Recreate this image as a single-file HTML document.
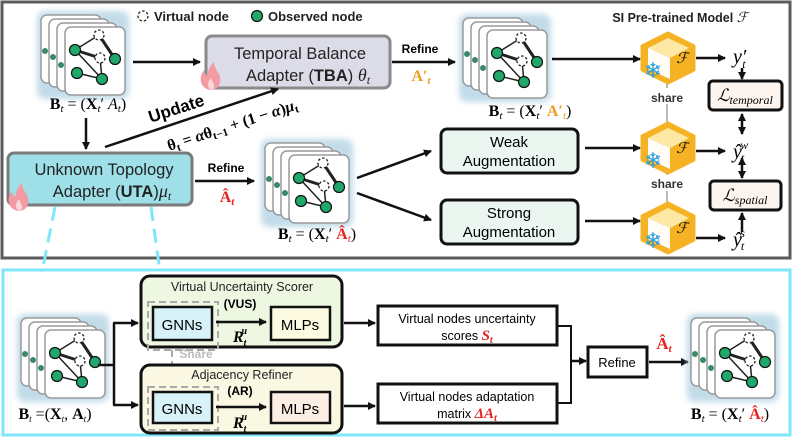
<!DOCTYPE html>
<html><head><meta charset="utf-8"><style>
html,body{margin:0;padding:0;background:#fff;}
svg{display:block;font-family:"Liberation Sans",sans-serif;}
.b{font-weight:bold;}
.m{font-family:"Liberation Serif",serif;}
</style></head><body>
<svg width="793" height="438" viewBox="0 0 793 438" xmlns="http://www.w3.org/2000/svg">
<defs>
<marker id="ar" markerWidth="8" markerHeight="8" refX="7" refY="4" orient="auto" markerUnits="userSpaceOnUse"><path d="M0,0 L8,4 L0,8 z" fill="#111"/></marker>
<marker id="ar2" markerWidth="8" markerHeight="8" refX="7" refY="4" orient="auto-start-reverse" markerUnits="userSpaceOnUse"><path d="M0,0 L8,4 L0,8 z" fill="#111"/></marker>
<filter id="glow" x="-30%" y="-30%" width="160%" height="160%"><feGaussianBlur stdDeviation="3"/></filter>
<g id="card">
<rect x="0" y="0" width="60" height="68" rx="6" fill="#fff" stroke="#9a9a9a" stroke-width="1.5"/>
</g>
<g id="stack">
<rect x="-28" y="-16" width="92" height="88" rx="8" fill="#a9cde0" opacity="0.7" filter="url(#glow)"/>
<use href="#card" x="-24" y="-12"/>
<use href="#card" x="-16" y="-8"/>
<use href="#card" x="-8" y="-4"/>
<circle cx="-20" cy="24" r="3" fill="#3a8a6a"/><circle cx="-12" cy="30" r="3" fill="#3a8a6a"/><circle cx="-4" cy="38" r="3" fill="#3a8a6a"/>
<use href="#card" x="0" y="0"/>
<g stroke="#222" stroke-width="1.5">
<line x1="10" y1="23" x2="34" y2="8"/><line x1="34" y1="8" x2="50" y2="32" stroke-width="3"/>
<line x1="10" y1="23" x2="35" y2="31" stroke-width="3"/><line x1="10" y1="23" x2="37" y2="52"/>
<line x1="12" y1="46" x2="37" y2="52"/><line x1="35" y1="31" x2="37" y2="52"/>
</g>
<circle cx="34" cy="8" r="5" fill="#fff" stroke="#222" stroke-width="1.3" stroke-dasharray="2.5,2"/>
<circle cx="35" cy="31" r="5" fill="#fff" stroke="#222" stroke-width="1.3" stroke-dasharray="2.5,2"/>
<g fill="#1fa86a" stroke="#111" stroke-width="1.2">
<circle cx="10" cy="23" r="5.5"/><circle cx="50" cy="32" r="5.5"/><circle cx="12" cy="46" r="5.5"/><circle cx="37" cy="52" r="5.5"/>
</g>
</g>
<g id="cube">
<polygon points="0,-25 26,-12 26,12 0,25 -26,12 -26,-12" fill="#f5b324" stroke="#f5b324" stroke-width="3" stroke-linejoin="round"/>
<polygon points="0,-20 21,-10 2,0 -20,-10" fill="#fde8a6"/>
<polygon points="-20,-10 2,0 2,21 -20,11" fill="#fffdf6"/>
<text x="14" y="5" font-size="15" class="m" font-style="italic" text-anchor="middle" fill="#111">ℱ</text>
<text x="-15" y="20" font-size="22" text-anchor="middle" fill="#2a9ee0">❄</text>
</g>
<g id="flame">
<path d="M10,26 C0,24 -2,14 4,6 C5,12 8,12 8,10 C8,4 12,0 14,-2 C14,6 22,10 20,18 C19,24 15,26 10,26 z" fill="#f49aa3"/>
<path d="M11,26 C7,24 7,18 11,14 C12,18 15,20 14,24 z" fill="#fff" opacity="0.6"/>
</g>
</defs>

<rect x="2" y="2" width="788" height="256" fill="#fff" stroke="#5b5b5b" stroke-width="3"/>
<rect x="3" y="270" width="787" height="165" fill="#fff" stroke="#7fe7f9" stroke-width="3"/>

<circle cx="143" cy="16" r="5" fill="#fff" stroke="#222" stroke-width="1.3" stroke-dasharray="2.5,2"/>
<text x="154" y="21" font-size="13" class="b" fill="#222">Virtual node</text>
<circle cx="257" cy="16" r="5.5" fill="#1fa86a" stroke="#111" stroke-width="1.2"/>
<text x="268" y="21" font-size="13" class="b" fill="#222">Observed node</text>

<use href="#stack" x="65" y="27"/>
<text x="88" y="109" font-size="16" class="m" text-anchor="middle"><tspan font-weight="bold">B</tspan><tspan font-style="italic" font-size="11" dy="3">t</tspan><tspan dy="-3"> = (</tspan><tspan font-weight="bold">X</tspan><tspan font-style="italic" font-size="11" dy="3">t</tspan><tspan dy="-3">′ </tspan><tspan font-style="italic">A</tspan><tspan font-style="italic" font-size="11" dy="3">t</tspan><tspan dy="-3">)</tspan></text>

<line x1="133" y1="62" x2="200" y2="62" stroke="#111" stroke-width="2.5" marker-end="url(#ar)"/>

<rect x="206" y="36" width="184" height="52" rx="6" fill="#dcdce8" stroke="#8a8a8a" stroke-width="3"/>
<text x="300" y="59" font-size="16.5" text-anchor="middle" fill="#222">Temporal Balance</text>
<text x="308" y="81" font-size="16.5" text-anchor="middle" fill="#222">Adapter (<tspan font-weight="bold">TBA</tspan>) <tspan class="m" font-style="italic" font-size="18">θ</tspan><tspan class="m" font-style="italic" font-size="12" dy="3">t</tspan></text>
<use href="#flame" x="200" y="64"/>

<line x1="392" y1="62" x2="455" y2="62" stroke="#111" stroke-width="2.5" marker-end="url(#ar)"/>
<text x="420" y="53" font-size="12" class="b" text-anchor="middle">Refine</text>
<text x="421" y="81" font-size="16" class="m b" text-anchor="middle" fill="#f39a1c">A′<tspan font-size="11" font-style="italic" dy="3">t</tspan></text>

<line x1="105" y1="147" x2="278" y2="89" stroke="#111" stroke-width="2.5" marker-end="url(#ar)"/>
<text transform="translate(178,114) rotate(-18)" font-size="17" class="b" text-anchor="middle">Update</text>
<text transform="translate(234,130) rotate(-18)" font-size="16" class="m" font-weight="bold" text-anchor="middle">θ<tspan font-size="11" dy="3">t</tspan><tspan dy="-3"> = </tspan><tspan font-style="italic">α</tspan>θ<tspan font-size="11" dy="3">t−1</tspan><tspan dy="-3"> + (1 − </tspan><tspan font-style="italic">α</tspan>)<tspan font-style="italic">μ</tspan><tspan font-size="11" dy="3">t</tspan></text>

<line x1="86" y1="118" x2="86" y2="149" stroke="#111" stroke-width="2.5" marker-end="url(#ar)"/>

<rect x="8" y="153" width="184" height="52" rx="6" fill="#9fdfe8" stroke="#7a7a7a" stroke-width="3"/>
<text x="104" y="175" font-size="16.5" text-anchor="middle" fill="#222">Unknown Topology</text>
<text x="112" y="197" font-size="16.5" text-anchor="middle" fill="#222">Adapter (<tspan font-weight="bold">UTA</tspan>)<tspan class="m" font-style="italic" font-size="18">μ</tspan><tspan class="m" font-style="italic" font-size="12" dy="3">t</tspan></text>
<use href="#flame" x="8" y="185"/>

<line x1="55" y1="207" x2="42" y2="272" stroke="#7fe7f9" stroke-width="3" stroke-dasharray="14,8"/>
<line x1="151" y1="207" x2="160" y2="272" stroke="#7fe7f9" stroke-width="3" stroke-dasharray="14,8"/>

<line x1="195" y1="181" x2="254" y2="181" stroke="#111" stroke-width="2.5" marker-end="url(#ar)"/>
<text x="226" y="172" font-size="12" class="b" text-anchor="middle">Refine</text>
<text x="227" y="202" font-size="16" class="m b" text-anchor="middle" fill="#e8231f">Â<tspan font-size="11" font-style="italic" dy="3">t</tspan></text>

<use href="#stack" x="289" y="155"/>
<text x="317" y="239" font-size="16" class="m" text-anchor="middle"><tspan font-weight="bold">B</tspan><tspan font-style="italic" font-size="11" dy="3">t</tspan><tspan dy="-3"> = (</tspan><tspan font-weight="bold">X</tspan><tspan font-style="italic" font-size="11" dy="3">t</tspan><tspan dy="-3">′ </tspan><tspan font-weight="bold" fill="#e8231f">Â</tspan><tspan font-style="italic" font-size="11" dy="3" fill="#e8231f">t</tspan><tspan dy="-3">)</tspan></text>

<line x1="357" y1="178" x2="431" y2="151" stroke="#111" stroke-width="2.5" marker-end="url(#ar)"/>
<line x1="357" y1="193" x2="431" y2="220" stroke="#111" stroke-width="2.5" marker-end="url(#ar)"/>

<use href="#stack" x="487" y="30"/>
<text x="530" y="116" font-size="16" class="m" text-anchor="middle"><tspan font-weight="bold">B</tspan><tspan font-style="italic" font-size="11" dy="3">t</tspan><tspan dy="-3"> = (</tspan><tspan font-weight="bold">X</tspan><tspan font-style="italic" font-size="11" dy="3">t</tspan><tspan dy="-3">′ </tspan><tspan font-weight="bold" fill="#f39a1c">A′</tspan><tspan font-style="italic" font-size="11" dy="3" fill="#f39a1c">t</tspan><tspan dy="-3">)</tspan></text>

<rect x="441" y="129" width="137" height="44" rx="6" fill="#ebf6f1" stroke="#111" stroke-width="3"/>
<text x="509" y="147" font-size="15" text-anchor="middle">Weak</text>
<text x="509" y="166" font-size="15" text-anchor="middle">Augmentation</text>
<rect x="441" y="200" width="137" height="44" rx="6" fill="#ebf6f1" stroke="#111" stroke-width="3"/>
<text x="509" y="218" font-size="15" text-anchor="middle">Strong</text>
<text x="509" y="237" font-size="15" text-anchor="middle">Augmentation</text>

<line x1="552" y1="59" x2="640" y2="59" stroke="#111" stroke-width="2.5" marker-end="url(#ar)"/>
<line x1="585" y1="148" x2="640" y2="148" stroke="#111" stroke-width="2.5" marker-end="url(#ar)"/>
<line x1="585" y1="221" x2="640" y2="221" stroke="#111" stroke-width="2.5" marker-end="url(#ar)"/>

<text x="680" y="22" font-size="12.5" class="b" text-anchor="middle" fill="#222">SI Pre-trained Model <tspan class="m" font-style="italic" font-weight="normal" font-size="14">ℱ</tspan></text>
<line x1="667" y1="84" x2="667" y2="124" stroke="#bbb" stroke-width="2"/>
<line x1="667" y1="172" x2="667" y2="204" stroke="#bbb" stroke-width="2"/>
<rect x="645" y="88" width="44" height="16" fill="#fff"/>
<rect x="645" y="175" width="44" height="16" fill="#fff"/>
<text x="667" y="102" font-size="12" class="b" text-anchor="middle" fill="#333">share</text>
<text x="667" y="188" font-size="12" class="b" text-anchor="middle" fill="#333">share</text>
<use href="#cube" x="668" y="58"/>
<use href="#cube" x="668" y="148"/>
<use href="#cube" x="668" y="228"/>

<line x1="696" y1="58" x2="725" y2="58" stroke="#111" stroke-width="2.5" marker-end="url(#ar)"/>
<line x1="696" y1="151" x2="725" y2="151" stroke="#111" stroke-width="2.5" marker-end="url(#ar)"/>
<line x1="696" y1="238" x2="725" y2="238" stroke="#111" stroke-width="2.5" marker-end="url(#ar)"/>
<text x="733" y="63" font-size="20" class="m" font-style="italic">y′<tspan font-size="12" dy="5" dx="-4">t</tspan></text>
<text x="733" y="158" font-size="20" class="m" font-style="italic">ŷ<tspan font-size="12" dy="4" dx="-1">t</tspan><tspan font-size="12" dy="-13" dx="-4">w</tspan></text>
<text x="733" y="246" font-size="20" class="m" font-style="italic">ŷ<tspan font-size="12" dy="4" dx="-1">t</tspan><tspan font-size="12" dy="-13" dx="-4">s</tspan></text>

<rect x="709" y="81" width="73" height="29" rx="4" fill="#fcf4ee" stroke="#111" stroke-width="3"/>
<text x="745" y="101" font-size="17" class="m" font-style="italic" text-anchor="middle">ℒ<tspan font-size="12" dy="3">temporal</tspan></text>
<rect x="710" y="181" width="71" height="29" rx="4" fill="#fcf4ee" stroke="#111" stroke-width="3"/>
<text x="745" y="201" font-size="17" class="m" font-style="italic" text-anchor="middle">ℒ<tspan font-size="12" dy="3">spatial</tspan></text>
<line x1="742" y1="68" x2="742" y2="79" stroke="#111" stroke-width="2.5" marker-end="url(#ar)"/>
<line x1="742" y1="114" x2="742" y2="134" stroke="#111" stroke-width="2.5" marker-start="url(#ar2)" marker-end="url(#ar2)"/>
<line x1="742" y1="158" x2="742" y2="178" stroke="#111" stroke-width="2.5" marker-start="url(#ar2)" marker-end="url(#ar2)"/>
<line x1="742" y1="232" x2="742" y2="213" stroke="#111" stroke-width="2.5" marker-end="url(#ar)"/>

<use href="#stack" x="45" y="330"/>
<text x="55" y="419" font-size="16" class="m" text-anchor="middle"><tspan font-weight="bold">B</tspan><tspan font-style="italic" font-size="9" dy="3">t</tspan><tspan dy="-3"> =(</tspan><tspan font-weight="bold">X</tspan><tspan font-style="italic" font-size="9" dy="3">t</tspan><tspan dy="-3">, </tspan><tspan font-weight="bold">A</tspan><tspan font-style="italic" font-size="9" dy="3">t</tspan><tspan dy="-3">)</tspan></text>
<polyline points="98,365 114,365" fill="none" stroke="#111" stroke-width="2.5"/>
<polyline points="114,323 114,405" fill="none" stroke="#111" stroke-width="2.5"/>
<line x1="113" y1="323" x2="138" y2="323" stroke="#111" stroke-width="2.5" marker-end="url(#ar)"/>
<line x1="113" y1="405" x2="138" y2="405" stroke="#111" stroke-width="2.5" marker-end="url(#ar)"/>

<rect x="141" y="276" width="201" height="71" rx="9" fill="#eef7e1" stroke="#111" stroke-width="3"/>
<text x="242" y="291" font-size="12.5" text-anchor="middle" fill="#222">Virtual Uncertainty Scorer</text>
<rect x="148" y="302" width="70" height="48" fill="none" stroke="#aaa" stroke-width="2" stroke-dasharray="7,4"/>
<rect x="153" y="307" width="59" height="33" fill="#d7f3f9" stroke="#111" stroke-width="2.5"/>
<text x="182" y="330" font-size="15" text-anchor="middle">GNNs</text>
<text x="240" y="308" font-size="12" class="b" text-anchor="middle">(VUS)</text>
<line x1="216" y1="322" x2="266" y2="322" stroke="#111" stroke-width="2.5" marker-end="url(#ar)"/>
<text x="240" y="342" font-size="16" class="m" font-style="italic" text-anchor="middle" font-weight="bold">R<tspan font-size="10" dy="4">t</tspan><tspan font-size="10" dy="-12" dx="-5">u</tspan></text>
<rect x="271" y="307" width="59" height="33" fill="#fdfae2" stroke="#111" stroke-width="2.5"/>
<text x="300" y="330" font-size="15" text-anchor="middle">MLPs</text>

<line x1="172" y1="350" x2="172" y2="386" stroke="#aaa" stroke-width="2" stroke-dasharray="7,4"/>
<text x="196" y="358" font-size="12" class="b" text-anchor="middle" fill="#bbb">Share</text>

<rect x="141" y="365" width="201" height="68" rx="9" fill="#faf8e2" stroke="#111" stroke-width="3"/>
<text x="242" y="379" font-size="12.5" text-anchor="middle" fill="#222">Adjacency Refiner</text>
<rect x="148" y="387" width="70" height="43" fill="none" stroke="#aaa" stroke-width="2" stroke-dasharray="7,4"/>
<rect x="153" y="392" width="59" height="31" fill="#d7f3f9" stroke="#111" stroke-width="2.5"/>
<text x="182" y="414" font-size="15" text-anchor="middle">GNNs</text>
<text x="240" y="395" font-size="12" class="b" text-anchor="middle">(AR)</text>
<line x1="216" y1="407" x2="266" y2="407" stroke="#111" stroke-width="2.5" marker-end="url(#ar)"/>
<text x="240" y="428" font-size="16" class="m" font-style="italic" text-anchor="middle" font-weight="bold">R<tspan font-size="10" dy="4">t</tspan><tspan font-size="10" dy="-12" dx="-5">u</tspan></text>
<rect x="271" y="392" width="59" height="31" fill="#fdeee3" stroke="#111" stroke-width="2.5"/>
<text x="300" y="414" font-size="15" text-anchor="middle">MLPs</text>

<line x1="344" y1="323" x2="375" y2="323" stroke="#111" stroke-width="2.5" marker-end="url(#ar)"/>
<line x1="344" y1="406" x2="375" y2="406" stroke="#111" stroke-width="2.5" marker-end="url(#ar)"/>
<rect x="378" y="306" width="179" height="39" fill="#fff" stroke="#111" stroke-width="3"/>
<text x="467" y="323" font-size="12.5" text-anchor="middle">Virtual nodes uncertainty</text>
<text x="467" y="340" font-size="12.5" text-anchor="middle">scores <tspan class="m" font-style="italic" font-weight="bold" fill="#e8231f" font-size="15">S<tspan font-size="10" dy="3">t</tspan></tspan></text>
<rect x="378" y="384" width="179" height="39" fill="#fff" stroke="#111" stroke-width="3"/>
<text x="467" y="401" font-size="12.5" text-anchor="middle">Virtual nodes adaptation</text>
<text x="467" y="418" font-size="12.5" text-anchor="middle">matrix <tspan class="m" font-style="italic" font-weight="bold" fill="#e8231f" font-size="15">ΔA<tspan font-size="10" dy="3">t</tspan></tspan></text>

<polyline points="558,326 571,326 571,403 558,403" fill="none" stroke="#111" stroke-width="2"/>
<line x1="571" y1="361" x2="586" y2="361" stroke="#111" stroke-width="2.5" marker-end="url(#ar)"/>
<rect x="588" y="347" width="59" height="30" fill="#fff" stroke="#111" stroke-width="3"/>
<text x="617" y="367" font-size="13" text-anchor="middle">Refine</text>
<line x1="649" y1="362" x2="688" y2="362" stroke="#111" stroke-width="2.5" marker-end="url(#ar)"/>
<text x="664" y="349" font-size="17" class="m b" text-anchor="middle" fill="#e8231f">Â<tspan font-size="11" font-style="italic" dy="3">t</tspan></text>

<use href="#stack" x="715" y="330"/>
<text x="730" y="419" font-size="16" class="m" text-anchor="middle"><tspan font-weight="bold">B</tspan><tspan font-style="italic" font-size="11" dy="3">t</tspan><tspan dy="-3"> = (</tspan><tspan font-weight="bold">X</tspan><tspan font-style="italic" font-size="11" dy="3">t</tspan><tspan dy="-3">′ </tspan><tspan font-weight="bold" fill="#e8231f">Â</tspan><tspan font-style="italic" font-size="11" dy="3" fill="#e8231f">t</tspan><tspan dy="-3">)</tspan></text>
</svg>
</body></html>
